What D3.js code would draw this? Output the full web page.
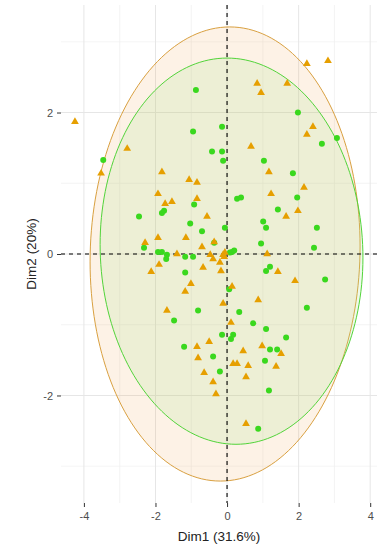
<!DOCTYPE html>
<html>
<head>
<meta charset="utf-8">
<script src="https://cdn.jsdelivr.net/npm/d3@7"></script>
<style>
  body { margin: 0; background: #fff; }
  svg { display: block; font-family: "Liberation Sans", Arial, sans-serif; }
</style>
</head>
<body>
<svg id="chart" width="387" height="548"></svg>
<script>
// group 1 (orange triangles): [Dim1, Dim2]
const groupA = [
  [-4.25, 1.87], [-2.79, 1.49], [-3.52, 1.14], [-1.82, 1.16], [-1.06, 1.05],
  [-0.84, 1.01], [-1.93, 0.85], [-1.73, 0.71], [-1.54, 0.74], [-0.84, 0.78],
  [-2.29, 0.16], [-1.93, 0.23], [-1.15, 0.23], [-1.40, 0.00], [-1.90, -0.15],
  [-2.12, -0.25], [-1.01, -0.42], [-1.17, -0.53], [-1.68, -0.80], [-0.70, 0.10],
  [-0.67, -0.19], [-0.47, -0.01], [-0.39, -0.07], [-0.20, -0.12], [-0.17, -0.24],
  [-0.11, -0.01], [-0.08, -0.04], [-0.06, 0.02], [1.12, 0.00], [1.42, -0.25],
  [1.90, -0.38], [0.14, -0.46], [0.87, -0.65], [-0.11, -0.70], [0.11, -0.97],
  [2.23, 2.69], [2.82, 2.73], [0.84, 2.41], [1.68, 2.41], [0.95, 2.28],
  [2.40, 1.80], [2.23, 1.69], [0.67, 1.52], [1.17, 1.16], [2.15, 0.94],
  [1.23, 0.85], [1.98, 0.61], [1.65, 0.53], [-0.56, 0.53], [-0.36, 0.17],
  [-0.50, -1.24], [-0.84, -1.31], [-0.81, -1.47], [-0.64, -1.68], [-0.39, -1.81],
  [-0.31, -1.98], [0.45, -1.37], [0.17, -1.55], [0.28, -1.55], [0.59, -1.58],
  [0.53, -1.74], [0.98, -1.30], [1.51, -1.41], [1.37, -1.59], [0.53, -2.40]
];

// group 2 (green circles): [Dim1, Dim2]
const groupB = [
  [-0.87, 2.32], [-0.95, 1.73], [-3.46, 1.33], [-1.76, 0.61], [-1.82, 0.58],
  [-2.46, 0.53], [-1.03, 0.43], [-0.70, 0.32], [-0.92, 0.70], [-2.32, 0.09],
  [-1.93, 0.03], [-1.82, 0.03], [-1.68, -0.01], [-1.70, -0.07], [-1.17, -0.04],
  [-0.95, -0.04], [-1.17, -0.26], [-0.81, -0.80], [-1.48, -0.94], [-1.20, -1.31],
  [-0.36, 0.16], [0.95, 0.15], [2.43, 0.09], [0.14, 0.03], [0.08, 0.02],
  [0.20, 0.05], [1.09, -0.24], [1.20, -0.18], [2.74, -0.36], [0.06, -0.50],
  [0.34, -0.82], [2.23, -0.76], [0.73, -0.98], [1.09, -1.06], [1.65, -1.18],
  [-0.14, -1.14], [0.17, -1.14], [0.11, -1.20], [1.98, 2.00], [-0.14, 1.80],
  [3.07, 1.64], [2.65, 1.56], [-0.42, 1.45], [-0.14, 1.45], [-0.11, 1.32],
  [1.03, 1.32], [1.84, 1.14], [0.28, 0.78], [0.39, 0.80], [1.96, 0.80],
  [1.42, 0.63], [1.01, 0.46], [1.09, 0.37], [-0.06, 0.37], [2.51, 0.37],
  [-0.39, -1.45], [-0.20, -1.66], [1.20, -1.35], [1.40, -1.35], [1.06, -1.51],
  [1.17, -1.93], [0.87, -2.47]
];

// confidence ellipses: centre x, centre y, x radius, shear, y radius
const ellipseA = [-0.055, 0.0, 3.77, 0.13, 3.21];
const ellipseB = [0.125, 0.04, 3.67, -0.125, 2.73];

const xTicks = [-4, -2, 0, 2, 4];
const yTicks = [-2, 0, 2];
const xMinor = [-3, -1, 1, 3];
const yMinor = [-3, -1, 1, 3];

const colorA = "#E69F00";
const colorB = "#3AD81E";

const margin = { top: 5, right: 10, bottom: 45, left: 61 };
const width = 387 - margin.left - margin.right;
const height = 548 - margin.top - margin.bottom;

const svg = d3.select("#chart");
const g = svg.append("g")
  .attr("transform", `translate(${margin.left}, ${margin.top})`);

const x = d3.scaleLinear().domain([-4.64, 4.19]).range([0, width]);
const y = d3.scaleLinear().domain([-3.52, 3.52]).range([height, 0]);

// grid
g.selectAll(".minor-x").data(xMinor).join("line")
  .attr("x1", d => x(d)).attr("x2", d => x(d))
  .attr("y1", 0).attr("y2", height)
  .attr("stroke", "#EFEFEF").attr("stroke-width", 0.7);
g.selectAll(".minor-y").data(yMinor).join("line")
  .attr("y1", d => y(d)).attr("y2", d => y(d))
  .attr("x1", 0).attr("x2", width)
  .attr("stroke", "#EFEFEF").attr("stroke-width", 0.7);
g.selectAll(".major-x").data(xTicks).join("line")
  .attr("x1", d => x(d)).attr("x2", d => x(d))
  .attr("y1", 0).attr("y2", height)
  .attr("stroke", "#E6E6E6").attr("stroke-width", 1);
g.selectAll(".major-y").data(yTicks).join("line")
  .attr("y1", d => y(d)).attr("y2", d => y(d))
  .attr("x1", 0).attr("x2", width)
  .attr("stroke", "#E6E6E6").attr("stroke-width", 1);

// ellipses
const ellipsePoints = (e) => d3.range(0, 2 * Math.PI, Math.PI / 90).map(t => [
  x(e[0] + e[2] * Math.cos(t) + e[3] * Math.sin(t)),
  y(e[1] + e[4] * Math.sin(t))
]);
const closed = d3.line().curve(d3.curveLinearClosed);

g.append("path")
  .attr("d", closed(ellipsePoints(ellipseA)))
  .attr("fill", "#F2A65A").attr("fill-opacity", 0.15)
  .attr("stroke", "#D9A040").attr("stroke-width", 1);
g.append("path")
  .attr("d", closed(ellipsePoints(ellipseB)))
  .attr("fill", "#A8E288").attr("fill-opacity", 0.18)
  .attr("stroke", "#52D43A").attr("stroke-width", 1);

// reference lines
g.append("line")
  .attr("x1", x(0)).attr("x2", x(0)).attr("y1", 0).attr("y2", height)
  .attr("stroke", "#000").attr("stroke-width", 1.1).attr("stroke-dasharray", "4,4");
g.append("line")
  .attr("y1", y(0)).attr("y2", y(0)).attr("x1", 0).attr("x2", width)
  .attr("stroke", "#000").attr("stroke-width", 1.1).attr("stroke-dasharray", "4,4");

// points
g.selectAll(".pt-b").data(groupB).join("circle")
  .attr("cx", d => x(d[0])).attr("cy", d => y(d[1]))
  .attr("r", 3).attr("fill", colorB);
const tri = d3.symbol().type(d3.symbolTriangle).size(26);
g.selectAll(".pt-a").data(groupA).join("path")
  .attr("d", tri)
  .attr("transform", d => `translate(${x(d[0])}, ${y(d[1])})`)
  .attr("fill", colorA);

// axes
const fmt = d => String(d);
const xAxis = g.append("g")
  .attr("transform", `translate(0, ${height})`)
  .call(d3.axisBottom(x).tickValues(xTicks).tickFormat(fmt).tickSize(4).tickPadding(5));
const yAxis = g.append("g")
  .call(d3.axisLeft(y).tickValues(yTicks).tickFormat(fmt).tickSize(4).tickPadding(4));
[xAxis, yAxis].forEach(a => {
  a.select(".domain").remove();
  a.selectAll(".tick line").attr("stroke", "#333").attr("stroke-width", 1);
  a.selectAll(".tick text").attr("fill", "#4D4D4D").attr("font-size", 11)
    .attr("font-family", "Liberation Sans, Arial, sans-serif");
});

// axis titles
svg.append("text")
  .attr("x", margin.left + width / 2).attr("y", 541)
  .attr("text-anchor", "middle").attr("font-size", 13.5).attr("fill", "#222")
  .text("Dim1 (31.6%)");
svg.append("text")
  .attr("transform", `translate(36, ${margin.top + height / 2}) rotate(-90)`)
  .attr("text-anchor", "middle").attr("font-size", 13.5).attr("fill", "#222")
  .text("Dim2 (20%)");
</script>
</body>
</html>
